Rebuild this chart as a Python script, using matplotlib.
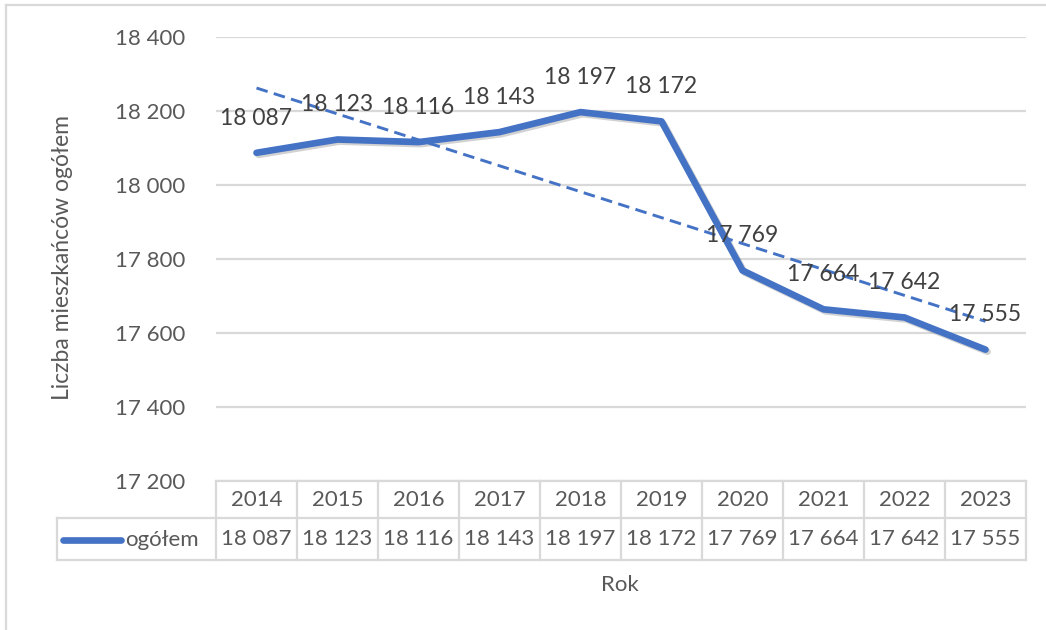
import numpy as np
import matplotlib
matplotlib.use("Agg")
import matplotlib.pyplot as plt
import matplotlib.patheffects as pe
from matplotlib.lines import Line2D
from matplotlib.transforms import blended_transform_factory

plt.rcParams['font.family'] = ['Lato', 'DejaVu Sans']

years = ["2014", "2015", "2016", "2017", "2018", "2019", "2020", "2021", "2022", "2023"]
values = [18087, 18123, 18116, 18143, 18197, 18172, 17769, 17664, 17642, 17555]
series_name = "ogółem"
y_ticks = [17200, 17400, 17600, 17800, 18000, 18200, 18400]
y_label = "Liczba mieszkańców ogółem"
x_label = "Rok"

W, H = 1046, 630
BLUE = "#4472C4"
TXT = "#595959"
GRID = "#D9D9D9"
FS = 16


def fmt(v):
    return f"{v:,}".replace(",", " ")


def fx(px):
    return px / W


def fy(py):
    return 1 - py / H


fig = plt.figure(figsize=(W / 100, H / 100), dpi=100)
ax = fig.add_axes([fx(216), fy(481), fx(1026) - fx(216), fy(37) - fy(481)])

x = np.arange(1, len(values) + 1)
ax.set_xlim(0.5, len(values) + 0.5)
ax.set_ylim(y_ticks[0], y_ticks[-1])
ax.set_yticks(y_ticks)
ax.set_yticklabels([fmt(t) for t in y_ticks], color=TXT, fontsize=FS)
ax.tick_params(axis='y', length=0, pad=22)
ax.set_xticks([])
for s in ax.spines.values():
    s.set_visible(False)
ax.yaxis.grid(True, color=GRID, linewidth=1.6)
ax.set_axisbelow(True)

# main line
ax.plot(x, values, color=BLUE, linewidth=4.8, solid_joinstyle='round', solid_capstyle='round',
        path_effects=[pe.SimpleLineShadow(offset=(1.5, -1.5), shadow_color='#808080', alpha=0.35),
                      pe.Normal()], zorder=3, clip_on=False)

# linear trend line
coef = np.polyfit(x, values, 1)
trend = np.polyval(coef, x)
ax.plot(x, trend, color=BLUE, linewidth=2.1, linestyle=(0, (4, 2.2)), zorder=4)

# data labels
for xi, v in zip(x, values):
    ax.annotate(fmt(v), (xi, v), xytext=(0, 25), textcoords='offset points',
                ha='center', va='center', color="#404040", fontsize=FS + 0.5, zorder=5)

# data table
tr = blended_transform_factory(ax.transData, fig.transFigure)
y_top, y_mid, y_bot = fy(481), fy(518), fy(560)
lw = 1.6
n = len(values)
ax.add_line(Line2D([0.5, n + 0.5], [y_top, y_top], transform=tr, color=GRID, lw=lw, clip_on=False))
fig.add_artist(Line2D([fx(57), fx(1026)], [y_mid, y_mid], color=GRID, lw=lw))
fig.add_artist(Line2D([fx(57), fx(1026)], [y_bot, y_bot], color=GRID, lw=lw))
fig.add_artist(Line2D([fx(57), fx(57)], [y_mid, y_bot], color=GRID, lw=lw))
for i in range(n + 1):
    ax.add_line(Line2D([0.5 + i, 0.5 + i], [y_top, y_bot], transform=tr, color=GRID, lw=lw, clip_on=False))
for xi, yr, v in zip(x, years, values):
    ax.text(xi, (y_top + y_mid) / 2, yr, transform=tr, ha='center', va='center', color=TXT, fontsize=FS)
    ax.text(xi, (y_mid + y_bot) / 2, fmt(v), transform=tr, ha='center', va='center', color=TXT, fontsize=FS)

# legend key in table
fig.add_artist(Line2D([fx(63), fx(121)], [fy(540), fy(540)], color=BLUE, lw=4.8, solid_capstyle='round'))
fig.text(fx(125), fy(540), series_name, ha='left', va='center', color=TXT, fontsize=FS)

# axis titles
fig.text(fx(620), fy(585), x_label, ha='center', va='center', color=TXT, fontsize=FS)
fig.text(fx(63), fy(258), y_label, ha='center', va='center', rotation=90, rotation_mode='anchor',
         color=TXT, fontsize=FS + 0.5)

# chart border (partially visible)
fig.add_artist(Line2D([fx(6), fx(6)], [fy(5), 0], color=GRID, lw=1.6))
fig.add_artist(Line2D([fx(6), 1], [fy(5), fy(5)], color=GRID, lw=1.6))

fig.savefig("out.png", dpi=100)
